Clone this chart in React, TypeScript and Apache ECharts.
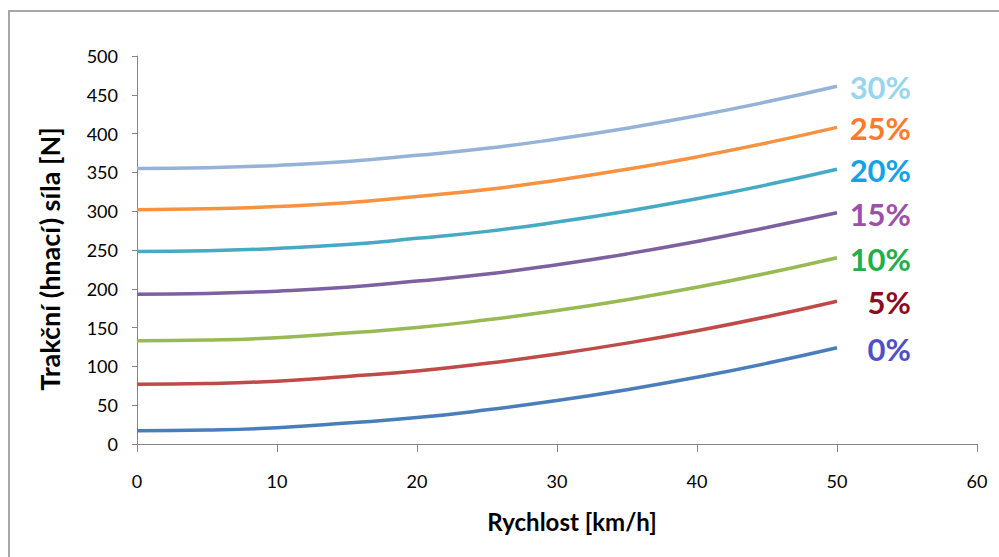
import React, { useEffect, useRef } from "react";
import * as echarts from "echarts";

const speeds = [0, 5, 10, 15, 20, 25, 30, 35, 40, 45, 50];
const seriesNames = ["0%", "5%", "10%", "15%", "20%", "25%", "30%"];
const force0 = [17, 18, 21, 27, 34, 44, 56, 70, 86, 104, 124];
const force5 = [77, 78, 81, 87, 94, 104, 116, 130, 146, 164, 184];
const force10 = [133, 134, 137, 143, 150, 160, 172, 186, 202, 220, 240];
const force15 = [193, 194, 197, 202, 210, 219, 231, 245, 261, 279, 298];
const force20 = [248, 249, 252, 257, 265, 274, 286, 300, 316, 334, 354];
const force25 = [302, 303, 306, 311, 319, 328, 340, 354, 370, 388, 408];
const force30 = [355, 356, 359, 364, 372, 381, 393, 407, 423, 441, 461];
const forces = [force0, force5, force10, force15, force20, force25, force30];

const lineColors = ["#4A7EBB", "#BE4B48", "#98B954", "#7D60A0", "#46AAC5", "#F69240", "#95B3D7"];
const labelColors = ["#4F4FC8", "#8E0A1E", "#22AE48", "#A04FA8", "#12A2E6", "#FF7A2A", "#98D6EE"];

export default function App() {
  const ref = useRef<HTMLDivElement>(null);
  useEffect(() => {
    if (!ref.current) return;
    const chart = echarts.init(ref.current, undefined, { renderer: "svg" });
    const font = "Lato, 'Liberation Sans', sans-serif";
    chart.setOption({
      animation: false,
      backgroundColor: "#ffffff",
      textStyle: { fontFamily: font },
      graphic: [
        {
          type: "rect",
          shape: { x: 9, y: 11, width: 1100, height: 700 },
          style: { fill: "none", stroke: "#A6A6A6", lineWidth: 2 },
          silent: true,
        },
      ],
      grid: { left: 137, right: 22, top: 56, bottom: 113 },
      xAxis: {
        type: "value",
        min: 0,
        max: 60,
        interval: 10,
        name: "Rychlost [km/h]",
        nameLocation: "middle",
        nameGap: 65,
        nameTextStyle: {
          fontFamily: font,
          fontSize: 24,
          fontWeight: "bold",
          color: "#000",
          padding: [0, 0, 0, 30],
        },
        axisLine: { show: true, lineStyle: { color: "#868686", width: 1 } },
        axisTick: { show: true, length: 8, lineStyle: { color: "#868686" } },
        axisLabel: { fontFamily: font, fontSize: 18, color: "#000", margin: 28 },
        splitLine: { show: false },
      },
      yAxis: {
        type: "value",
        min: 0,
        max: 500,
        interval: 50,
        name: "Trakční (hnací) síla [N]",
        nameLocation: "middle",
        nameGap: 74,
        nameRotate: 90,
        nameTextStyle: {
          fontFamily: font,
          fontSize: 27,
          fontWeight: "bold",
          color: "#000",
          padding: [0, 18, 0, 0],
        },
        axisLine: { show: true, lineStyle: { color: "#868686", width: 1 } },
        axisTick: { show: true, inside: false, length: 5, lineStyle: { color: "#868686" } },
        axisLabel: { fontFamily: font, fontSize: 18, color: "#000", margin: 19 },
        splitLine: { show: false },
      },
      series: seriesNames.map((name, i) => ({
        name,
        type: "line",
        smooth: true,
        symbol: "none",
        data: speeds.map((v, j) => [v, forces[i][j]]),
        lineStyle: { color: lineColors[i], width: 3.5 },
        endLabel: {
          show: true,
          formatter: name,
          align: "right",
          verticalAlign: "middle",
          distance: 0,
          offset: [74, 1],
          fontFamily: font,
          fontSize: 31,
          fontWeight: "bold",
          color: labelColors[i],
        },
      })),
    });
    return () => chart.dispose();
  }, []);
  return (
    <div
      ref={ref}
      style={{ position: "fixed", left: 0, top: 0, width: 999, height: 557 }}
    />
  );
}
